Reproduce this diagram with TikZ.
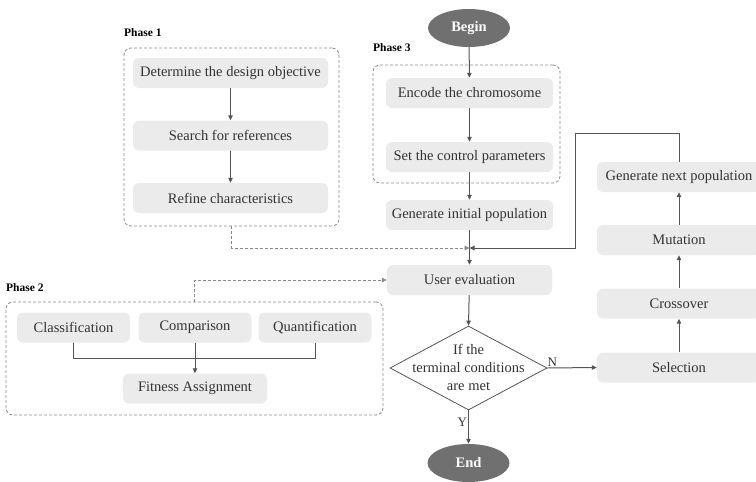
\documentclass[tikz,border=0pt]{standalone}
\usepackage{fontspec}
\setmainfont{Liberation Serif}
\usetikzlibrary{arrows.meta,shapes.geometric}
\definecolor{boxfill}{HTML}{EBEBEB}
\definecolor{inkgray}{HTML}{333333}
\definecolor{linegray}{HTML}{555555}
\definecolor{dashgray}{HTML}{8A8A8A}
\definecolor{termfill}{HTML}{707070}
\tikzset{
  stepbox/.style={fill=boxfill, rounded corners=6pt, minimum height=30pt,
    inner sep=0pt, text=inkgray, font=\fontsize{14.5}{16}\selectfont},
  phasebox/.style={draw=dashgray, dashed, dash pattern=on 3pt off 2pt,
    rounded corners=7pt, line width=0.8pt},
  phaselabel/.style={anchor=west, inner sep=0pt, text=black,
    font=\fontsize{11.5}{13}\selectfont\bfseries},
  terminal/.style={ellipse, fill=termfill, minimum width=82pt,
    minimum height=38pt, inner sep=0pt, text=white,
    font=\fontsize{14.5}{16}\selectfont\bfseries},
  flow/.style={draw=linegray, line width=1pt},
  arr/.style={flow, -{Triangle[length=5pt,width=4.5pt]}},
  dasharr/.style={draw=dashgray, line width=0.8pt, dash pattern=on 3pt off 2pt,
    -{Triangle[length=5pt,width=4.5pt]}},
  tag/.style={text=inkgray, font=\fontsize{13}{15}\selectfont, inner sep=1pt},
}
\begin{document}
\begin{tikzpicture}[x=1pt, y=-1pt]
\useasboundingbox (0,0) rectangle (756,482);

% Phase 1: design preparation
\node[phasebox, minimum width=215pt, minimum height=178pt] (ph1) at (231.5,137) {};
\node[phaselabel] (ph1lbl) at (124,33) {Phase 1};
\node[stepbox, minimum width=195pt] (det) at (230.5,73) {Determine the design objective};
\node[stepbox, minimum width=195pt] (ref) at (230.5,135.5) {Search for references};
\node[stepbox, minimum width=195pt] (chr) at (230.5,198) {Refine characteristics};
\draw[arr] (det) -- (ref);
\draw[arr] (ref) -- (chr);

% Phase 3: genetic algorithm setup
\node[terminal] (begin) at (469,28) {Begin};
\node[phasebox, minimum width=187pt, minimum height=118pt] (ph3) at (466.5,124) {};
\node[phaselabel] (ph3lbl) at (373,48) {Phase 3};
\node[stepbox, minimum width=167pt] (enc) at (469.5,93) {Encode the chromosome};
\node[stepbox, minimum width=167pt] (ctl) at (469.5,157) {Set the control parameters};
\node[stepbox, minimum width=167pt] (init) at (469.5,215) {Generate initial population};
\draw[arr] (begin) -- (enc);
\draw[arr] (enc) -- (ctl);
\draw[arr] (ctl) -- (init);

% Evaluation and termination test
\coordinate (join) at (469.5,248);
\node[stepbox, minimum width=165pt] (user) at (469.5,280) {User evaluation};
\node[draw=linegray, line width=0.8pt, diamond, minimum width=157pt,
  minimum height=84pt, inner sep=0pt] (cond) at (468.5,368) {};
\node[align=center, text=inkgray, font=\fontsize{14.5}{18}\selectfont,
  inner sep=0pt] (condtxt) at (468.5,367) {If the\\terminal conditions\\are met};
\node[terminal] (end) at (468.5,463) {End};
\draw[arr] (init) -- (user);
\draw[arr] (user) -- (cond.north);
\draw[arr] (cond.south) -- node[tag, left, pos=0.35] (ylbl) {Y} (end);

% Genetic operators
\node[stepbox, minimum width=164pt] (sel) at (679,367.5) {Selection};
\node[stepbox, minimum width=164pt] (cro) at (679,303.5) {Crossover};
\node[stepbox, minimum width=164pt] (mut) at (679,240) {Mutation};
\node[stepbox, minimum width=164pt] (nxt) at (679,177) {Generate next population};
\draw[arr] (cond.east) -- node[tag, above, pos=0.1] (nlbl) {N} (sel.west);
\draw[arr] (sel) -- (cro);
\draw[arr] (cro) -- (mut);
\draw[arr] (mut) -- (nxt);

% Loop back to evaluation
\coordinate (fbtop) at (679,133);
\coordinate (fbleft) at (575,133);
\draw[arr] (nxt.north) -- (fbtop) -- (fbleft) |- (join);

% Phase 1 feeds the evaluation
\draw[dasharr] (ph1.south) |- (join);

% Phase 2: fitness assignment
\node[phasebox, minimum width=377pt, minimum height=113pt] (ph2) at (194.5,358.5) {};
\node[phaselabel] (ph2lbl) at (6,288) {Phase 2};
\node[stepbox, minimum width=113pt] (cls) at (73.5,327.5) {Classification};
\node[stepbox, minimum width=113pt] (cmp) at (195,327.5) {Comparison};
\node[stepbox, minimum width=113pt] (qnt) at (315,327.5) {Quantification};
\node[stepbox, minimum width=144pt] (fit) at (195,388.5) {Fitness Assignment};
\coordinate (merge) at (0,358);
\draw[flow] (cls.south) -- (cls.south |- merge) -- (qnt.south |- merge) -- (qnt.south);
\draw[arr] (cmp) -- (fit);
\draw[dasharr] (ph2.north) |- (user.west);
\end{tikzpicture}
\end{document}
